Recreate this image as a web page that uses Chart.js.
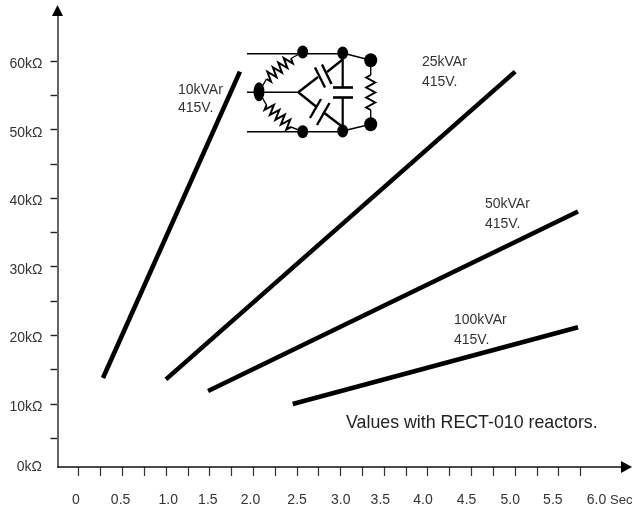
<!DOCTYPE html>
<html>
<head>
<meta charset="utf-8">
<style>
  html, body { margin: 0; padding: 0; background: #fff; }
  canvas { display: block; }
</style>
<script src="https://cdn.jsdelivr.net/npm/chart.js@4"></script>
</head>
<body>
<canvas id="grafico" width="634" height="510"></canvas>
<script>
// values
const seriesNames = ["10kVAr", "25kVAr", "50kVAr", "100kVAr"];
const secs10 = [0.275, 1.845];
const kohm10 = [13.8, 58.5];
const secs25 = [0.997, 5.0];
const kohm25 = [13.6, 58.5];
const secs50 = [1.48, 5.72];
const kohm50 = [11.9, 38.1];
const secs100 = [2.45, 5.72];
const kohm100 = [10.0, 21.2];

const xTicks = [0, 0.25, 0.5, 0.75, 1, 1.25, 1.5, 1.75, 2, 2.25, 2.5, 2.75, 3, 3.25, 3.5, 3.75, 4, 4.25, 4.5, 4.75, 5, 5.25, 5.5, 5.75];
const xLabels = ["0", "0.5", "1.0", "1.5", "2.0", "2.5", "3.0", "3.5", "4.0", "4.5", "5.0", "5.5", "6.0"];
const xLabelValues = [0, 0.5, 1, 1.5, 2, 2.5, 3, 3.5, 4, 4.5, 5, 5.5, 6];
// the printed labels sit a little off their ticks in the original
const xLabelNudge = [-3, -2, 2, -2, -3, 0, 0, -4, -5, -5, -5, -6, -6];
const yTicks = [5, 10, 15, 20, 25, 30, 35, 40, 45, 50, 55, 60];
const yLabelled = [10, 20, 30, 40, 50, 60];

// the axes are cut off just above the 0 position of the printed scale
const xMin = -0.246, xMax = 6.224, yMin = 0.816, yMax = 66.56;

const pontos = (xs, ys) => xs.map((x, i) => ({ x: x, y: ys[i] }));
const serie = (nome, xs, ys) => ({
  label: nome,
  data: pontos(xs, ys),
  borderColor: "#000",
  borderWidth: 4.6,
  pointRadius: 0,
  borderCapStyle: "butt",
  tension: 0
});

function linha(ctx, x1, y1, x2, y2, w) {
  ctx.lineWidth = w;
  ctx.beginPath();
  ctx.moveTo(x1, y1);
  ctx.lineTo(x2, y2);
  ctx.stroke();
}

function bola(ctx, x, y, rx, ry) {
  ctx.beginPath();
  ctx.ellipse(x, y, rx, ry, 0, 0, Math.PI * 2);
  ctx.fill();
}

function resistor(ctx, x1, y1, x2, y2, n, amp) {
  const dx = x2 - x1, dy = y2 - y1;
  const len = Math.hypot(dx, dy);
  const nx = -dy / len, ny = dx / len;
  ctx.lineWidth = 2;
  ctx.beginPath();
  ctx.moveTo(x1, y1);
  for (let i = 0; i < n; i++) {
    const t = (i + 0.5) / n;
    const s = i % 2 === 0 ? amp : -amp;
    ctx.lineTo(x1 + dx * t + nx * s, y1 + dy * t + ny * s);
  }
  ctx.lineTo(x2, y2);
  ctx.stroke();
}

// little delta circuit at the top of the plot
function desenharCircuito(ctx) {
  ctx.save();
  ctx.strokeStyle = "#000";
  ctx.fillStyle = "#000";
  linha(ctx, 247, 53.7, 343, 53.7, 1.4);
  linha(ctx, 247, 131.7, 343, 131.7, 1.4);
  linha(ctx, 247, 92.3, 298.3, 92.3, 1.4);

  linha(ctx, 259, 92, 266.5, 79, 1.4);
  resistor(ctx, 266.5, 79, 291, 58.5, 9, 5);
  linha(ctx, 291, 58.5, 302.7, 52, 1.4);
  linha(ctx, 259, 92, 266.5, 105, 1.4);
  resistor(ctx, 266.5, 105, 291, 127, 9, 5);
  linha(ctx, 291, 127, 302.7, 131.7, 1.4);

  // capacitors
  linha(ctx, 298.3, 92.3, 318, 77, 2.4);
  linha(ctx, 315, 67.5, 325, 87.5, 2.4);
  linha(ctx, 322, 64.5, 331.5, 84, 2.4);
  linha(ctx, 327, 72, 342.7, 59.5, 2.4);
  linha(ctx, 298.3, 92.3, 316, 106.5, 2.4);
  linha(ctx, 310, 118, 321, 99, 2.4);
  linha(ctx, 317, 125, 329.5, 103, 2.4);
  linha(ctx, 323, 112, 342.7, 127, 2.4);
  linha(ctx, 342.7, 53, 342.7, 87.5, 2.2);
  linha(ctx, 333, 87.5, 353, 87.5, 2.6);
  linha(ctx, 333, 97.5, 353, 97.5, 2.6);
  linha(ctx, 342.7, 97.5, 342.7, 131, 2.2);

  linha(ctx, 342.7, 53, 370.7, 60.3, 1.4);
  linha(ctx, 342.7, 131, 370.7, 124.3, 1.4);
  linha(ctx, 370.7, 60.3, 370.7, 75, 1.4);
  resistor(ctx, 370.7, 75, 370.7, 110, 7, 4.5);
  linha(ctx, 370.7, 110, 370.7, 124.3, 1.4);

  bola(ctx, 259, 91.7, 5.5, 9.5);
  bola(ctx, 302.7, 52, 5.5, 6.5);
  bola(ctx, 342.7, 53, 5.5, 6.5);
  bola(ctx, 370.7, 60.3, 6.5, 7);
  bola(ctx, 370.7, 124.3, 6.5, 7);
  bola(ctx, 342.7, 131, 5.5, 6.5);
  bola(ctx, 302.7, 131.7, 5.5, 6.5);
  ctx.restore();
}

const extras = {
  id: "extras",
  afterDraw(chart) {
    const ctx = chart.ctx;
    const sx = chart.scales.x;
    const area = chart.chartArea;
    ctx.save();

    // arrows at the ends of the axes
    ctx.strokeStyle = "#111";
    ctx.fillStyle = "#000";
    linha(ctx, area.left, area.bottom, 622, area.bottom, 1.5);
    ctx.beginPath();
    ctx.moveTo(632, area.bottom);
    ctx.lineTo(621, area.bottom - 6);
    ctx.lineTo(621, area.bottom + 6);
    ctx.closePath();
    ctx.fill();
    ctx.beginPath();
    ctx.moveTo(area.left, 5);
    ctx.lineTo(area.left - 5.5, 16);
    ctx.lineTo(area.left + 5.5, 16);
    ctx.closePath();
    ctx.fill();

    ctx.fillStyle = "#333";
    ctx.font = "14px 'Liberation Sans'";
    ctx.textBaseline = "middle";

    // x labels
    ctx.textAlign = "center";
    xLabels.forEach((txt, i) => {
      ctx.fillText(txt, sx.getPixelForValue(xLabelValues[i]) + xLabelNudge[i], 500);
    });
    ctx.textAlign = "left";
    ctx.font = "13px 'Liberation Sans'";
    ctx.fillText("Sec", 610, 500);
    ctx.font = "14px 'Liberation Sans'";

    // 0 label of the y axis, printed on the x axis line
    ctx.textAlign = "right";
    ctx.fillText("0kΩ", 42, 467);

    // series notes
    ctx.textAlign = "left";
    ctx.fillText(seriesNames[0], 178, 90);
    ctx.fillText("415V.", 178, 108);
    ctx.fillText(seriesNames[1], 422, 62);
    ctx.fillText("415V.", 422, 82);
    ctx.fillText(seriesNames[2], 485, 204);
    ctx.fillText("415V.", 485, 224);
    ctx.fillText(seriesNames[3], 454, 320);
    ctx.fillText("415V.", 454, 340);

    ctx.font = "17.8px 'Liberation Sans'";
    ctx.fillStyle = "#222";
    ctx.fillText("Values with RECT-010 reactors.", 346, 423);
    ctx.restore();

    desenharCircuito(ctx);
  }
};

new Chart(document.getElementById("grafico").getContext("2d"), {
  type: "scatter",
  data: {
    datasets: [
      serie(seriesNames[0], secs10, kohm10),
      serie(seriesNames[1], secs25, kohm25),
      serie(seriesNames[2], secs50, kohm50),
      serie(seriesNames[3], secs100, kohm100)
    ].map(d => ({ ...d, showLine: true }))
  },
  options: {
    responsive: false,
    animation: false,
    layout: { padding: { left: 0, right: 12, top: 16, bottom: 0 } },
    plugins: {
      legend: { display: false },
      title: { display: false },
      tooltip: { enabled: false }
    },
    scales: {
      x: {
        type: "linear",
        min: xMin,
        max: xMax,
        afterBuildTicks: scale => { scale.ticks = xTicks.map(v => ({ value: v })); },
        afterFit: scale => { scale.height = 43; },
        grid: { drawOnChartArea: false, tickLength: 9, tickColor: "#333", tickWidth: 1.2 },
        border: { display: false },
        ticks: { display: false }
      },
      y: {
        type: "linear",
        min: yMin,
        max: yMax,
        afterBuildTicks: scale => { scale.ticks = yTicks.map(v => ({ value: v })); },
        afterFit: scale => { scale.width = 57.5; },
        grid: { drawOnChartArea: false, tickLength: 7, tickColor: "#222", tickWidth: 1.4 },
        border: { color: "#666", width: 2 },
        ticks: {
          autoSkip: false,
          color: "#333",
          font: { family: "'Liberation Sans'", size: 14 },
          padding: 8,
          labelOffset: 3,
          callback: v => yLabelled.includes(v) ? v + "kΩ" : ""
        }
      }
    }
  },
  plugins: [extras]
});
</script>
</body>
</html>
